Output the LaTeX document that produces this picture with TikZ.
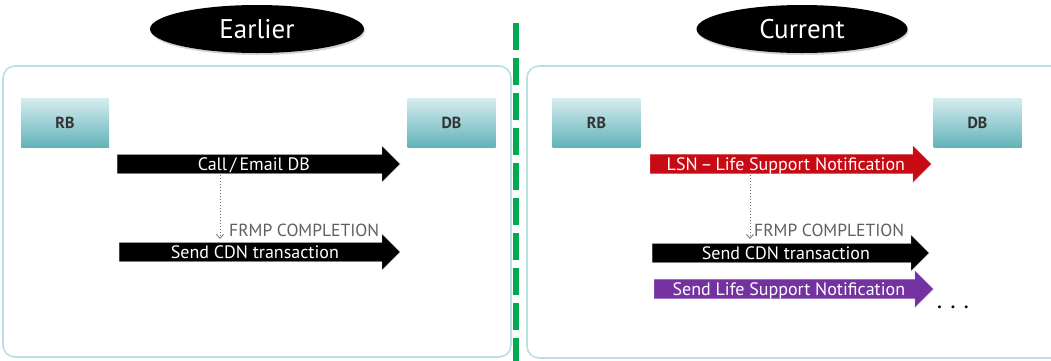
\documentclass[tikz,border=0pt]{standalone}
\usepackage{fontspec}
\setmainfont{PT Sans}
\usetikzlibrary{shapes.geometric,shapes.arrows,shadows,arrows.meta}
\definecolor{panelc}{RGB}{185,225,228}
\definecolor{boxtop}{RGB}{214,236,239}
\definecolor{boxbot}{RGB}{98,180,186}
\definecolor{sepgreen}{RGB}{0,170,80}
\definecolor{lsnred}{RGB}{200,10,20}
\definecolor{lsnpurple}{RGB}{115,50,160}
\definecolor{notegray}{RGB}{95,95,95}
\tikzset{
  era/.style={ellipse, fill=black, text=white, minimum width=214, minimum height=48,
    font=\fontsize{27}{27}\selectfont,
    drop shadow={opacity=0.35, shadow xshift=1pt, shadow yshift=-2pt}},
  panel/.style={draw=panelc, line width=1.6pt, rounded corners=12pt},
  party/.style={rectangle, shade, top color=boxtop, bottom color=boxbot,
    minimum width=88, minimum height=49, inner sep=0pt,
    font=\bfseries\fontsize{16}{16}\selectfont, text=black!80},
  msg/.style={single arrow, single arrow head extend=8.5pt, shape border rotate=0,
    single arrow tip angle=90, minimum width=36, inner ysep=0pt, inner xsep=2pt,
    text height=15.5pt, text depth=3.5pt, anchor=west, text=white,
    font=\fontsize{18}{18}\selectfont, draw=black!25, line width=0.4pt},
  note/.style={text=notegray, font=\fontsize{17.5}{17.5}\selectfont, anchor=west, inner sep=0pt},
  trigger/.style={draw=black!55, dotted, line width=1pt, -{Straight Barb[length=4pt,width=7pt,line width=0.8pt]}},
}
\begin{document}
\begin{tikzpicture}[x=1pt,y=-1pt]
\useasboundingbox (0,0) rectangle (1051,360);
\clip (0,0) rectangle (1051,360);

% headings
\node[era] (earlier) at (257,29) {Earlier};
\node[era, minimum width=211] (current) at (802,29) {Current};

% panels
\draw[panel] (3,66) rectangle (511,357);
\draw[panel] (527,66) rectangle (1075,358);

% separator
\draw[sepgreen, line width=6pt, dash pattern=on 27pt off 8pt] (516,23) -- (516,362);

% earlier process
\node[party] (rb1) at (65,122.5) {RB};
\node[party] (db1) at (451.5,122.5) {DB};
\node[msg, fill=black, minimum height=283] (call) at (117,164) {Call\,/\,Email DB};
\node[msg, fill=black, minimum height=281] (cdn1) at (119,252) {Send CDN transaction};
\coordinate (t1a) at (220,175);
\coordinate (t1b) at (220,239);
\draw[trigger] (t1a) -- (t1b);
\node[note] (frmp1) at (229,230) {FRMP COMPLETION};

% current process
\node[party] (rb2) at (596.5,122.5) {RB};
\node[party] (db2) at (977.5,122.5) {DB};
\node[msg, fill=lsnred, draw=lsnred!70, minimum height=281] (lsn) at (650,164) {LSN\,--\,Life Support Notification};
\node[msg, fill=black, minimum height=277] (cdn2) at (652,253) {Send CDN transaction};
\node[msg, fill=lsnpurple, draw=lsnpurple!70, minimum height=279] (lsnsend) at (654,289) {Send Life Support Notification};
\coordinate (t2a) at (750,175);
\coordinate (t2b) at (750,239);
\draw[trigger] (t2a) -- (t2b);
\node[note] (frmp2) at (754,230) {FRMP COMPLETION};
\node[font=\bfseries\fontsize{18}{18}\selectfont, inner sep=0pt] (more) at (953,307) {.\hspace{9pt}.\hspace{9pt}.};
\end{tikzpicture}
\end{document}
